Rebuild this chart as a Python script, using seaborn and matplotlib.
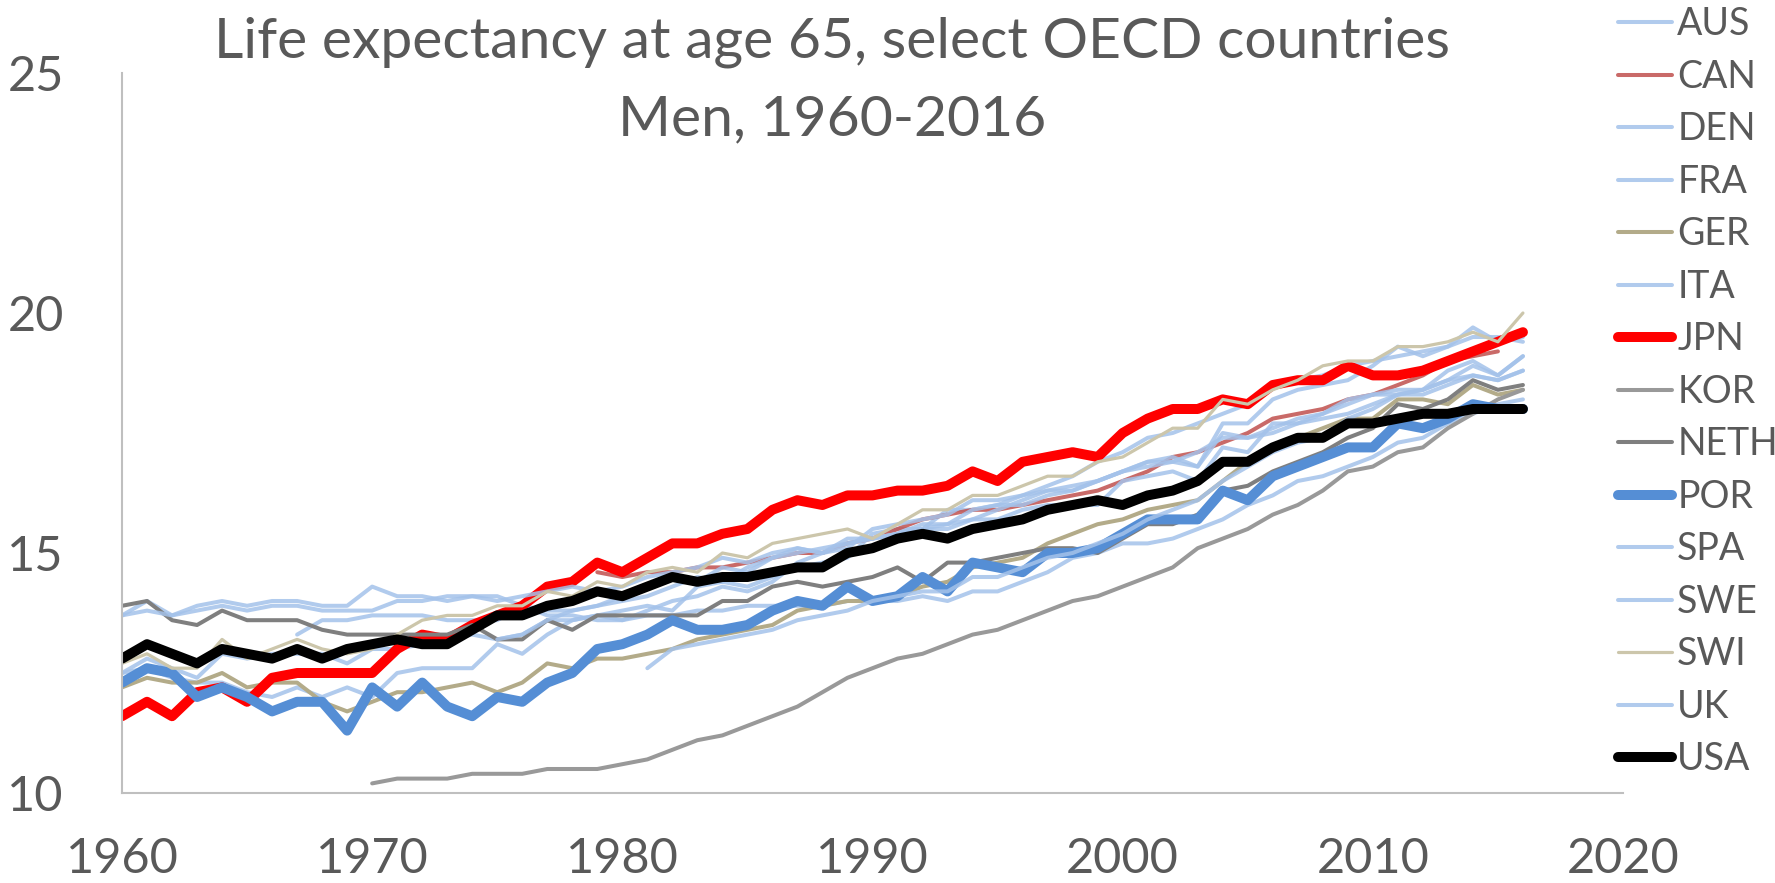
import numpy as np
import pandas as pd
import matplotlib
matplotlib.use("Agg")
import matplotlib.pyplot as plt
import seaborn as sns

# life expectancy at 65, men
years = list(range(1960, 2017))
nan = np.nan

aus = [12.5, 12.6, 12.4, 12.3, 12.3, 12.1, 12.0, 12.2, 12.0, 12.2,
       12.0, 12.5, 12.6, 12.6, 12.6, 13.1, 12.9, 13.3, 13.6, 13.7,
       13.8, 13.9, 13.8, 14.3, 14.4, 14.3, 14.5, 14.7, 14.8, 14.9,
       15.4, 15.5, 15.5, 15.9, 15.9, 16.0, 16.2, 16.4, 16.6, 16.9,
       17.1, 17.4, 17.5, 17.7, 17.9, 18.1, 18.5, 18.6, 18.7, 18.9,
       19.0, 19.1, 19.2, 19.3, 19.5, 19.5, 19.4]
can = [nan] * 19 + [14.6, 14.5, 14.6, 14.6, 14.7, 14.7, 14.8, 14.9, 15.0, 15.0,
                    15.2, 15.3, 15.5, 15.7, 15.8, 15.9, 15.9, 16.0, 16.1, 16.2,
                    16.3, 16.5, 16.7, 17.0, 17.1, 17.3, 17.5, 17.8, 17.9, 18.0,
                    18.2, 18.3, 18.5, 18.7, 19.0, 19.1, 19.2] + [nan]
den = [13.7, 14.0, 13.7, 13.9, 14.0, 13.9, 14.0, 14.0, 13.9, 13.9,
       14.3, 14.1, 14.1, 14.0, 14.1, 14.1, 13.9, 13.7, 13.7, 13.6,
       13.6, 13.7, 13.7, 13.8, 13.8, 13.9, 13.9, 13.9, 13.9, 14.0,
       14.0, 14.0, 14.1, 14.0, 14.2, 14.2, 14.4, 14.6, 14.9, 15.0,
       15.2, 15.2, 15.3, 15.5, 15.7, 16.0, 16.2, 16.5, 16.6, 16.8,
       17.0, 17.3, 17.4, 17.7, 17.9, 18.1, 18.2]
fra = [12.5, 12.8, 12.6, 12.4, 12.9, 12.8, 12.9, 12.9, 12.9, 12.7,
       13.0, 13.0, 13.1, 13.2, 13.3, 13.2, 13.3, 13.6, 13.6, 13.7,
       13.6, 13.8, 14.0, 14.1, 14.3, 14.2, 14.4, 14.8, 15.0, 15.1,
       15.5, 15.6, 15.7, 15.8, 16.1, 16.1, 16.2, 16.3, 16.4, 16.5,
       16.7, 16.9, 16.9, 16.8, 17.7, 17.7, 18.2, 18.4, 18.5, 18.6,
       18.9, 19.3, 19.1, 19.3, 19.7, 19.4, 19.5]
ger = [12.2, 12.4, 12.3, 12.3, 12.5, 12.2, 12.3, 12.3, 11.9, 11.7,
       11.9, 12.1, 12.1, 12.2, 12.3, 12.1, 12.3, 12.7, 12.6, 12.8,
       12.8, 12.9, 13.0, 13.2, 13.3, 13.4, 13.5, 13.8, 13.9, 14.0,
       14.0, 14.1, 14.3, 14.4, 14.7, 14.8, 14.9, 15.2, 15.4, 15.6,
       15.7, 15.9, 16.0, 16.1, 16.5, 16.9, 17.2, 17.4, 17.6, 17.8,
       17.8, 18.2, 18.2, 18.1, 18.5, 18.3, 18.4]
ita = [nan] * 7 + [13.3, 13.6, 13.6, 13.7, 13.7, 13.7, 13.6, 13.6, 13.6, 13.9,
                   13.8, 13.8, 13.9, 14.0, 14.1, 14.3, 14.5, 14.4, 14.7, 14.9,
                   15.0, 15.1, 15.2, 15.3, 15.4, 15.6, 15.6, 15.7, 15.9, 16.1,
                   16.3, 16.3, 16.5, 16.7, 16.9, 17.0, 16.8, 17.5, 17.4, 17.6,
                   17.8, 17.9, 18.1, 18.3, 18.3, 18.4, 18.6, 18.9, 18.7, 19.1]
jpn = [11.6, 11.9, 11.6, 12.1, 12.2, 11.9, 12.4, 12.5, 12.5, 12.5,
       12.5, 13.0, 13.3, 13.2, 13.5, 13.7, 13.9, 14.3, 14.4, 14.8,
       14.6, 14.9, 15.2, 15.2, 15.4, 15.5, 15.9, 16.1, 16.0, 16.2,
       16.2, 16.3, 16.3, 16.4, 16.7, 16.5, 16.9, 17.0, 17.1, 17.0,
       17.5, 17.8, 18.0, 18.0, 18.2, 18.1, 18.5, 18.6, 18.6, 18.9,
       18.7, 18.7, 18.8, 19.0, 19.2, 19.4, 19.6]
kor = [nan] * 10 + [10.2, 10.3, 10.3, 10.3, 10.4, 10.4, 10.4, 10.5, 10.5, 10.5,
                    10.6, 10.7, 10.9, 11.1, 11.2, 11.4, 11.6, 11.8, 12.1, 12.4,
                    12.6, 12.8, 12.9, 13.1, 13.3, 13.4, 13.6, 13.8, 14.0, 14.1,
                    14.3, 14.5, 14.7, 15.1, 15.3, 15.5, 15.8, 16.0, 16.3, 16.7,
                    16.8, 17.1, 17.2, 17.6, 17.9, 18.2, 18.4]
neth = [13.9, 14.0, 13.6, 13.5, 13.8, 13.6, 13.6, 13.6, 13.4, 13.3,
        13.3, 13.3, 13.3, 13.3, 13.5, 13.2, 13.2, 13.6, 13.4, 13.7,
        13.7, 13.7, 13.7, 13.7, 14.0, 14.0, 14.3, 14.4, 14.3, 14.4,
        14.5, 14.7, 14.4, 14.8, 14.8, 14.9, 15.0, 15.1, 15.1, 15.0,
        15.3, 15.6, 15.6, 15.8, 16.3, 16.4, 16.7, 16.9, 17.1, 17.4,
        17.6, 18.1, 18.0, 18.2, 18.6, 18.4, 18.5]
por = [12.3, 12.6, 12.5, 12.0, 12.2, 12.0, 11.7, 11.9, 11.9, 11.3,
       12.2, 11.8, 12.3, 11.8, 11.6, 12.0, 11.9, 12.3, 12.5, 13.0,
       13.1, 13.3, 13.6, 13.4, 13.4, 13.5, 13.8, 14.0, 13.9, 14.3,
       14.0, 14.1, 14.5, 14.2, 14.8, 14.7, 14.6, 15.0, 15.0, 15.1,
       15.4, 15.7, 15.7, 15.7, 16.3, 16.1, 16.6, 16.8, 17.0, 17.2,
       17.2, 17.7, 17.6, 17.8, 18.1, 18.0, 18.0]
spa = [nan] * 15 + [13.2, 13.3, 13.6, 13.8, 13.9, 14.1, 14.3, 14.5, 14.4, 14.7,
                    14.6, 14.9, 15.1, 15.0, 15.2, 15.3, 15.4, 15.5, 15.5, 15.7,
                    15.7, 15.9, 16.0, 16.0, 16.0, 16.5, 16.6, 16.7, 16.5, 17.2,
                    17.1, 17.7, 17.7, 17.9, 18.2, 18.3, 18.4, 18.4, 18.8, 19.0,
                    18.7, 19.1]
swe = [13.7, 13.8, 13.7, 13.8, 13.9, 13.8, 13.9, 13.9, 13.8, 13.8,
       13.8, 14.0, 14.0, 14.1, 14.1, 14.0, 14.1, 14.2, 14.3, 14.2,
       14.3, 14.5, 14.6, 14.7, 14.9, 14.8, 15.0, 15.1, 15.0, 15.3,
       15.3, 15.4, 15.5, 15.6, 15.9, 16.0, 16.0, 16.2, 16.3, 16.5,
       16.7, 16.8, 16.9, 17.1, 17.4, 17.4, 17.5, 17.7, 17.8, 17.9,
       18.1, 18.3, 18.3, 18.5, 18.7, 18.6, 18.8]
swi = [12.7, 12.9, 12.6, 12.6, 13.2, 12.8, 13.0, 13.2, 13.0, 12.9,
       13.0, 13.3, 13.6, 13.7, 13.7, 13.9, 13.9, 14.2, 14.1, 14.4,
       14.3, 14.6, 14.7, 14.6, 15.0, 14.9, 15.2, 15.3, 15.4, 15.5,
       15.3, 15.6, 15.9, 15.9, 16.2, 16.2, 16.4, 16.6, 16.6, 16.9,
       17.0, 17.3, 17.6, 17.6, 18.2, 18.1, 18.4, 18.6, 18.9, 19.0,
       19.0, 19.3, 19.3, 19.4, 19.6, 19.4, 20.0]
uk = [nan] * 21 + [12.6, 13.0, 13.1, 13.2, 13.3, 13.4, 13.6, 13.7, 13.8, 14.0,
                   14.1, 14.2, 14.2, 14.5, 14.5, 14.7, 14.9, 15.0, 15.2, 15.4,
                   15.7, 15.9, 16.1, 16.5, 16.8, 17.1, 17.3, 17.4, 17.8, 18.0,
                   18.3, 18.4, 18.6, 18.7, 18.6, 18.8]
usa = [12.8, 13.1, 12.9, 12.7, 13.0, 12.9, 12.8, 13.0, 12.8, 13.0,
       13.1, 13.2, 13.1, 13.1, 13.4, 13.7, 13.7, 13.9, 14.0, 14.2,
       14.1, 14.3, 14.5, 14.4, 14.5, 14.5, 14.6, 14.7, 14.7, 15.0,
       15.1, 15.3, 15.4, 15.3, 15.5, 15.6, 15.7, 15.9, 16.0, 16.1,
       16.0, 16.2, 16.3, 16.5, 16.9, 16.9, 17.2, 17.4, 17.4, 17.7,
       17.7, 17.8, 17.9, 17.9, 18.0, 18.0, 18.0]

countries = ["AUS", "CAN", "DEN", "FRA", "GER", "ITA", "JPN", "KOR",
             "NETH", "POR", "SPA", "SWE", "SWI", "UK", "USA"]
series = [aus, can, den, fra, ger, ita, jpn, kor, neth, por, spa, swe, swi, uk, usa]

LIGHT = "#a4c2ea"
styles = {
    "AUS": (LIGHT, 2.9), "CAN": ("#c0504d", 2.9), "DEN": (LIGHT, 2.9),
    "FRA": (LIGHT, 2.9), "GER": ("#b3ab89", 2.9), "ITA": (LIGHT, 2.9),
    "JPN": ("#ff0000", 7.2), "KOR": ("#999999", 2.9), "NETH": ("#7f7f7f", 2.9),
    "POR": ("#558ed5", 7.2), "SPA": (LIGHT, 2.9), "SWE": (LIGHT, 2.9),
    "SWI": ("#ccc6ab", 2.3), "UK": (LIGHT, 2.9), "USA": ("#000000", 7.2),
}

sns.set_theme(style="white")
plt.rcParams["font.family"] = ["Lato", "DejaVu Sans"]

fig = plt.figure(figsize=(17.75, 8.83), dpi=100)
ax = fig.add_axes([122 / 1775, 1 - 793 / 883, (1623 - 122) / 1775, (793 - 73) / 883])

for name, vals in zip(countries, series):
    assert len(vals) == len(years), name
    df = pd.DataFrame({"year": years, "value": vals}).dropna()
    color, lw = styles[name]
    alpha = 0.85 if color in (LIGHT, "#c0504d") else 1.0
    sns.lineplot(data=df, x="year", y="value", ax=ax, color=color, linewidth=lw,
                 alpha=alpha, label=name, solid_capstyle="round",
                 solid_joinstyle="round")

ax.set_xlim(1960, 2020)
ax.set_ylim(10, 25)
ax.set_xticks(range(1960, 2021, 10))
ax.set_yticks([10, 15, 20, 25])
ax.set_xlabel("")
ax.set_ylabel("")
for side in ["top", "right"]:
    ax.spines[side].set_visible(False)
for side in ["left", "bottom"]:
    ax.spines[side].set_color("#bfbfbf")
    ax.spines[side].set_linewidth(1.5)
ax.tick_params(axis="both", length=0, labelsize=35, labelcolor="#595959")
ax.tick_params(axis="x", pad=32)
ax.tick_params(axis="y", pad=42)

handles, labels = ax.get_legend_handles_labels()
ax.get_legend().remove()
fig.legend(handles, labels, loc="upper left", bbox_to_anchor=(1618 / 1775, 0.993),
           frameon=False, fontsize=27, labelcolor="#595959", handlelength=1.45,
           handletextpad=0.13, labelspacing=0.44, borderpad=0, borderaxespad=0)

fig.text(832 / 1775, 1 - 58 / 883, "Life expectancy at age 65, select OECD countries",
         ha="center", va="baseline", fontsize=41, color="#595959")
fig.text(832 / 1775, 1 - 135 / 883, "Men, 1960-2016",
         ha="center", va="baseline", fontsize=41, color="#595959")

fig.savefig("out.png", dpi=100)
